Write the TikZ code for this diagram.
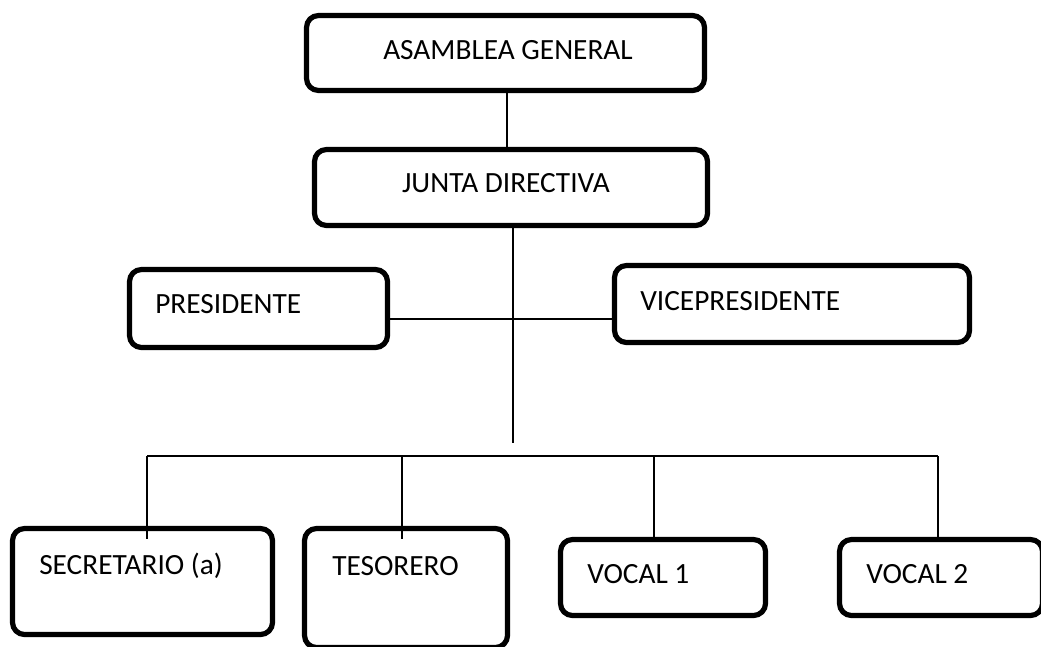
\documentclass[tikz,border=0pt]{standalone}
\usepackage{fontspec}
\setmainfont{Carlito}
\begin{document}
\begin{tikzpicture}[x=0.75pt,y=-0.75pt,
  box/.style={draw=black,line width=3.9pt,rounded corners=9pt,fill=white,inner sep=0pt},
  lbl/.style={inner sep=0pt,font=\fontsize{22}{26}\selectfont},
  conn/.style={draw=black,line width=1.1pt}]
\useasboundingbox (0,0) rectangle (1041,646);
% boxes
\node[box,minimum width=298.5pt,minimum height=56.25pt] (ag) at (505.5,53) {};
\node[box,minimum width=294.75pt,minimum height=57pt] (jd) at (511,187.5) {};
\node[box,minimum width=193.5pt,minimum height=58.5pt] (pres) at (258.5,308.5) {};
\node[box,minimum width=266.25pt,minimum height=57.75pt] (vice) at (792,304) {};
\node[box,minimum width=195pt,minimum height=79.5pt] (sec) at (142.5,581.5) {};
\node[box,minimum width=152.25pt,minimum height=89.25pt] (tes) at (406,588) {};
\node[box,minimum width=153.75pt,minimum height=57pt] (v1) at (663,577.5) {};
\node[box,minimum width=152.25pt,minimum height=57pt] (v2) at (941,577.5) {};
% labels
\node[lbl,anchor=base] (tag) at (508,59) {ASAMBLEA GENERAL};
\node[lbl,anchor=base] (tjd) at (506,192) {JUNTA DIRECTIVA};
\node[lbl,anchor=base west] (tpres) at (155,313) {PRESIDENTE};
\node[lbl,anchor=base west] (tvice) at (640,310) {VICEPRESIDENTE};
\node[lbl,anchor=base west] (tsec) at (39,574) {SECRETARIO (a)};
\node[lbl,anchor=base west] (ttes) at (332,575) {TESORERO};
\node[lbl,anchor=base west] (tv1) at (587,583) {VOCAL 1};
\node[lbl,anchor=base west] (tv2) at (866,583) {VOCAL 2};
% coordinates
\coordinate (agb) at (507,93);
\coordinate (jdt) at (507,147);
\coordinate (jdb) at (513,228);
\coordinate (trunk) at (513,443);
\coordinate (busl) at (147,456);
\coordinate (busr) at (938,456);
\coordinate (btes) at (402,456);
\coordinate (bv1) at (654,456);
\coordinate (esec) at (147,539);
\coordinate (etes) at (402,539);
% connectors
\draw[conn] (agb) -- (jdt);
\draw[conn] (jdb) -- (trunk);
\draw[conn] (pres.east |- 0,319) -- (vice.west |- 0,319);
\draw[conn] (busl) -- (busr);
\draw[conn] (busl) -- (esec);
\draw[conn] (btes) -- (etes);
\draw[conn] (bv1) -- (v1.north -| bv1);
\draw[conn] (busr) -- (v2.north -| busr);
\end{tikzpicture}
\end{document}
